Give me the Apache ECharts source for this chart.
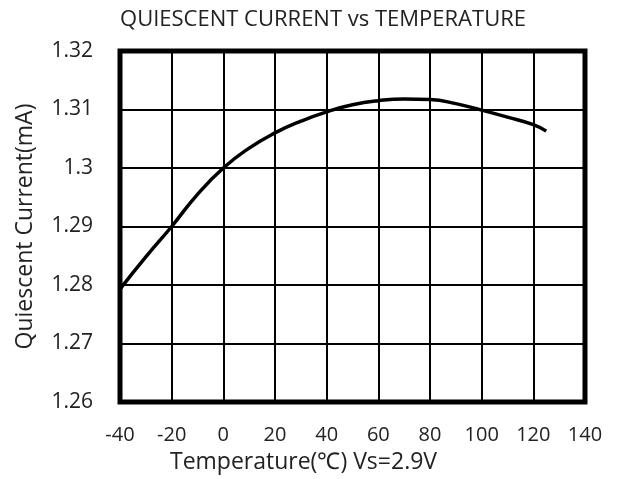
<!DOCTYPE html>
<html>
<head>
<meta charset="utf-8">
<script src="https://cdn.jsdelivr.net/npm/echarts@6/dist/echarts.min.js"></script>
<style>
  html, body { margin: 0; padding: 0; background: #fff; }
  #main { width: 617px; height: 479px; }
</style>
</head>
<body>
<div id="main"></div>
<script>
// temperature (°C) and quiescent current (mA)
var temps = [-40, -30, -20, -10, 0, 10, 20, 30, 40, 50, 60, 70, 80, 90, 100, 110, 120, 125];
var current = [1.2793, 1.2848, 1.2900, 1.2955, 1.3000, 1.3034, 1.3060, 1.3080, 1.3096, 1.3108, 1.3115, 1.3118, 1.3117, 1.3110, 1.3099, 1.3087, 1.3074, 1.3063];

var font = "'Open Sans', sans-serif";
var chart = echarts.init(document.getElementById("main"));

var option = {
  animation: false,
  title: {
    text: "QUIESCENT CURRENT vs TEMPERATURE",
    left: 318,
    textAlign: "center",
    top: 4,
    textStyle: { fontFamily: font, fontSize: 22, fontWeight: "normal", color: "#222" }
  },
  grid: {
    left: 120, right: 32, top: 51, bottom: 76,
    show: true, borderColor: "#000", borderWidth: 5
  },
  xAxis: {
    type: "value",
    min: -40, max: 140, interval: 20,
    name: "Temperature(℃) Vs=2.9V",
    nameLocation: "middle",
    nameGap: 49,
    // the label sits left of the plot centre in the original
    nameTextStyle: { fontFamily: font, fontSize: 23, color: "#222", padding: [0, 98, 0, 0] },
    axisLine: { show: false },
    axisTick: { show: false },
    axisLabel: { fontFamily: font, fontSize: 20, color: "#222", margin: 23 },
    splitLine: { lineStyle: { color: "#000", width: 2 } }
  },
  yAxis: {
    type: "value",
    min: 1.26, max: 1.32, interval: 0.01,
    name: "Quiescent Current(mA)",
    nameLocation: "middle",
    nameGap: 83,
    nameTextStyle: { fontFamily: font, fontSize: 23, color: "#222" },
    axisLine: { show: false },
    axisTick: { show: false },
    axisLabel: {
      fontFamily: font, fontSize: 21, color: "#222", margin: 27,
      formatter: function (v) { return String(parseFloat(v.toFixed(2))); }
    },
    splitLine: { lineStyle: { color: "#000", width: 2 } }
  },
  series: [{
    type: "line",
    data: temps.map(function (t, i) { return [t, current[i]]; }),
    smooth: true,
    showSymbol: false,
    lineStyle: { color: "#000", width: 3.5 }
  }]
};
chart.setOption(option);
</script>
</body>
</html>
